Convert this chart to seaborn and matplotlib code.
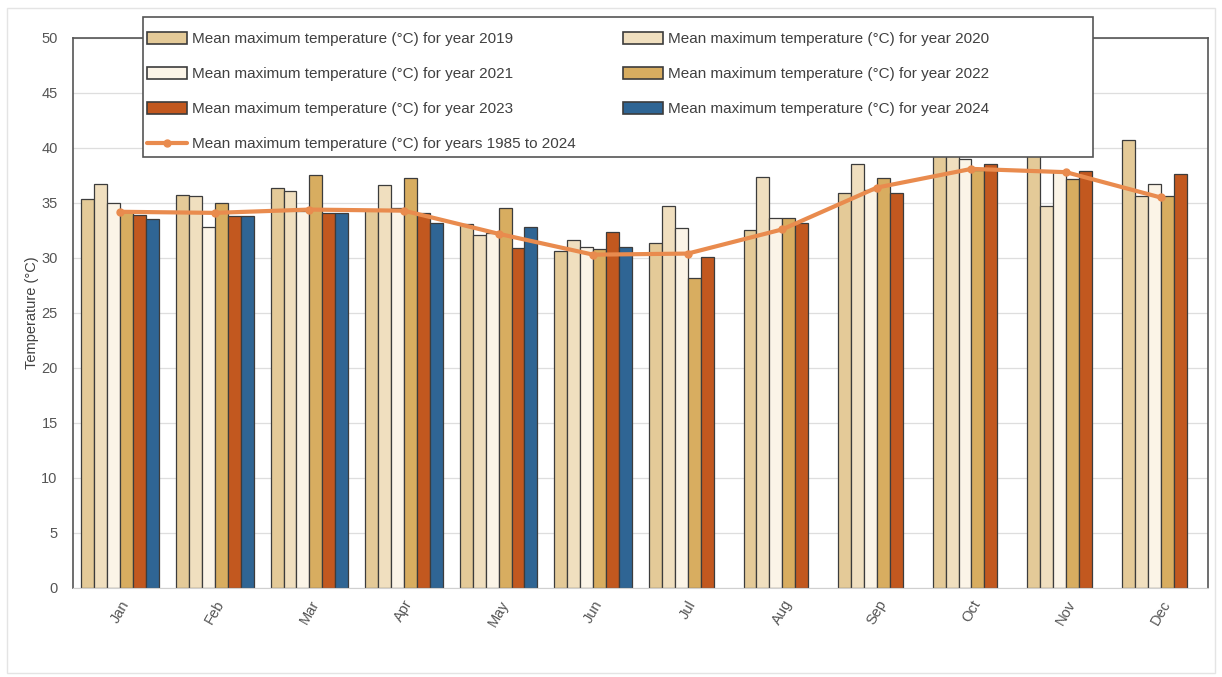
import numpy as np
import pandas as pd
import matplotlib
matplotlib.use("Agg")
import matplotlib.pyplot as plt
import seaborn as sns
from matplotlib.lines import Line2D
from matplotlib.patches import Rectangle

# Monthly mean maximum temperature (°C)
months = ['Jan', 'Feb', 'Mar', 'Apr', 'May', 'Jun', 'Jul', 'Aug', 'Sep', 'Oct', 'Nov', 'Dec']
years = ['2019', '2020', '2021', '2022', '2023', '2024']

t2019 = [35.4, 35.7, 36.4, 34.4, 33.1, 30.6, 31.4, 32.5, 35.9, 40.6, 40.2, 40.7]
t2020 = [36.7, 35.6, 36.1, 36.6, 32.1, 31.6, 34.7, 37.4, 38.5, 41.0, 34.7, 35.6]
t2021 = [35.0, 32.8, 34.3, 34.5, 32.3, 31.0, 32.7, 33.6, 36.2, 39.0, 37.8, 36.7]
t2022 = [34.2, 35.0, 37.5, 37.3, 34.5, 30.8, 28.2, 33.6, 37.3, 38.0, 37.2, 35.6]
t2023 = [33.9, 33.8, 34.1, 34.1, 30.9, 32.4, 30.1, 33.2, 35.9, 38.5, 37.9, 37.6]
t2024 = [33.5, 33.8, 34.1, 33.2, 32.8, 31.0, np.nan, np.nan, np.nan, np.nan, np.nan, np.nan]
t_long = [34.2, 34.1, 34.4, 34.3, 32.2, 30.3, 30.4, 32.6, 36.4, 38.1, 37.8, 35.5]

colors = ['#E4CA98', '#F0DFBF', '#FBF4E7', '#D8AD60', '#C2581F', '#2F6594']
line_color = '#E98B4E'

df = pd.DataFrame({'month': months * len(years),
                   'year': np.repeat(years, len(months)),
                   'temp': t2019 + t2020 + t2021 + t2022 + t2023 + t2024})

sns.set_style('white')
plt.rcParams['font.family'] = ['Liberation Sans', 'DejaVu Sans']

fig = plt.figure(figsize=(12.22, 6.77), dpi=100)
ax = fig.add_axes([0.0597, 0.1315, 0.9288, 0.8124])

sns.barplot(data=df, x='month', y='temp', hue='year', palette=colors, saturation=1,
            width=0.82, edgecolor='#3C3C3C', linewidth=0.9, ax=ax, legend=False)
ax.plot(np.arange(len(months)), t_long, color=line_color, lw=3, marker='o',
        ms=5, zorder=4)

ax.set_ylim(0, 50)
ax.set_xlim(-0.5, 11.5)
ax.set_yticks(range(0, 51, 5))
ax.yaxis.grid(True, color='#DEDEDE', lw=0.9)
ax.set_axisbelow(True)
ax.tick_params(length=0, colors='#555555', labelsize=10.5)
ax.tick_params(axis='y', pad=11)
ax.tick_params(axis='x', pad=7)
plt.setp(ax.get_xticklabels(), rotation=60, ha='center', va='top')
ax.set_xlabel('')
ax.set_ylabel('Temperature (°C)', fontsize=10.5, color='#404040', labelpad=2)
for side in ['left', 'top', 'right']:
    ax.spines[side].set_color('#555555')
    ax.spines[side].set_linewidth(1.2)
ax.spines['bottom'].set_color('#D0D0D0')

# Legend box drawn separately so it can be wider than its entries
box = Rectangle((143 / 1222, 1 - 157 / 677), 950 / 1222, 140 / 677, transform=fig.transFigure,
                facecolor='white', edgecolor='#555555', lw=1.2, zorder=5)
fig.add_artist(box)

# row order like the original: 2019 2020 / 2021 2022 / 2023 2024 / line
patches = [Rectangle((0, 0), 1, 1, facecolor=c, edgecolor='#3C3C3C', lw=1.2) for c in colors]
labels = ['Mean maximum temperature (°C) for year ' + y for y in years]
line_h = Line2D([], [], color=line_color, lw=3, marker='o', ms=5)
line_lab = 'Mean maximum temperature (°C) for years 1985 to 2024'
order_h = [patches[0], patches[2], patches[4], line_h, patches[1], patches[3], patches[5]]
order_l = [labels[0], labels[2], labels[4], line_lab, labels[1], labels[3], labels[5]]
leg = fig.legend(order_h, order_l, ncol=2, loc='upper left',
                 bbox_to_anchor=(147 / 1222, 1 - 32 / 677),
                 fontsize=11, frameon=False, handlelength=2.6, handletextpad=0.33,
                 handleheight=0.8, labelspacing=1.37, borderaxespad=0, borderpad=0,
                 columnspacing=3.1, labelcolor='#404040')
leg.set_zorder(10)

fig.patches.append(Rectangle((0.006, 0.006), 0.988, 0.982, transform=fig.transFigure,
                             fill=False, edgecolor='#E4E4E4', lw=1))

fig.savefig('out.png', dpi=100)
